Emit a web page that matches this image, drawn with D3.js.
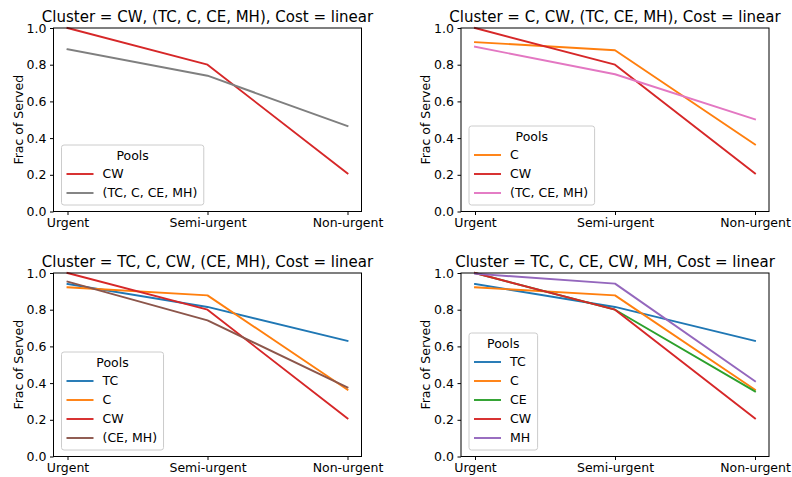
<!DOCTYPE html>
<html>
<head>
<meta charset="utf-8">
<script src="https://cdn.jsdelivr.net/npm/d3@7"></script>
<style>
  body { margin: 0; background: #fff; }
  svg { display: block; font-family: "DejaVu Sans", sans-serif; }
</style>
</head>
<body>
<script>
// categories on the x axis
var categories = ['Urgent', 'Semi-urgent', 'Non-urgent'];
var yTicks = [0, 0.2, 0.4, 0.6, 0.8, 1.0];

var titles = [
  'Cluster = CW, (TC, C, CE, MH), Cost = linear',
  'Cluster = C, CW, (TC, CE, MH), Cost = linear',
  'Cluster = TC, C, CW, (CE, MH), Cost = linear',
  'Cluster = TC, C, CE, CW, MH, Cost = linear'
];

// pools per panel and their values (Urgent, Semi-urgent, Non-urgent)
var pools1 = ['CW', '(TC, C, CE, MH)'];
var values1 = [
  [1.0, 0.80, 0.207],
  [0.884, 0.740, 0.466]
];

var pools2 = ['C', 'CW', '(TC, CE, MH)'];
var values2 = [
  [0.923, 0.879, 0.365],
  [1.0, 0.80, 0.207],
  [0.898, 0.748, 0.502]
];

var pools3 = ['TC', 'C', 'CW', '(CE, MH)'];
var values3 = [
  [0.940, 0.815, 0.630],
  [0.922, 0.878, 0.364],
  [1.0, 0.80, 0.207],
  [0.953, 0.742, 0.376]
];

var pools4 = ['TC', 'C', 'CE', 'CW', 'MH'];
var values4 = [
  [0.940, 0.815, 0.630],
  [0.922, 0.878, 0.364],
  [1.0, 0.80, 0.355],
  [1.0, 0.80, 0.207],
  [0.996, 0.942, 0.410]
];

var poolColors = {
  'TC': '#1f77b4', 'C': '#ff7f0e', 'CE': '#2ca02c', 'CW': '#d62728', 'MH': '#9467bd',
  '(CE, MH)': '#8c564b', '(TC, CE, MH)': '#e377c2', '(TC, C, CE, MH)': '#7f7f7f'
};

var panels = [
  {title: titles[0], pools: pools1, values: values1, left: 53.5, top: 28},
  {title: titles[1], pools: pools2, values: values2, left: 461, top: 28},
  {title: titles[2], pools: pools3, values: values3, left: 53.5, top: 273},
  {title: titles[3], pools: pools4, values: values4, left: 461, top: 273}
];

var W = 792, H = 477, pw = 308, ph = 183.5;
var fs = 12.5;

var svg = d3.select('body').append('svg')
  .attr('width', W)
  .attr('height', H);

panels.forEach(function(p) {
  var g = svg.append('g').attr('transform', 'translate(' + p.left + ',' + p.top + ')');

  // matplotlib 5% margin: 2 steps + 0.1 step each side
  var x = d3.scalePoint().domain(categories).range([pw * 0.1 / 2.2, pw - pw * 0.1 / 2.2]);
  var y = d3.scaleLinear().domain([0, 1]).range([ph, 0]);

  var line = d3.line()
    .x(function(d, i) { return x(categories[i]); })
    .y(function(d) { return y(d); });

  g.selectAll('path.series')
    .data(p.values)
    .enter().append('path')
    .attr('class', 'series')
    .attr('d', line)
    .attr('fill', 'none')
    .attr('stroke', function(d, i) { return poolColors[p.pools[i]]; })
    .attr('stroke-width', 1.9)
    .attr('stroke-linejoin', 'round')
    .attr('stroke-linecap', 'square');

  var xAxis = g.append('g')
    .attr('transform', 'translate(0,' + ph + ')')
    .call(d3.axisBottom(x).tickSize(3.5).tickPadding(3.5));
  var yAxis = g.append('g')
    .call(d3.axisLeft(y).tickValues(yTicks).tickFormat(d3.format('.1f')).tickSize(3.5).tickPadding(3.5));

  [xAxis, yAxis].forEach(function(a) {
    a.select('.domain').remove();
    a.selectAll('text').attr('font-size', fs).attr('font-family', 'DejaVu Sans').attr('fill', '#000');
    a.selectAll('line').attr('stroke', '#000').attr('stroke-width', 1);
  });

  g.append('rect')
    .attr('width', pw)
    .attr('height', ph)
    .attr('fill', 'none')
    .attr('stroke', '#000')
    .attr('stroke-width', 1);

  g.append('text')
    .text(p.title)
    .attr('x', pw / 2)
    .attr('y', -6)
    .attr('text-anchor', 'middle')
    .attr('font-size', 15)
    .attr('fill', '#000');

  g.append('text')
    .text('Frac of Served')
    .attr('transform', 'translate(-35,' + (ph / 2) + ') rotate(-90)')
    .attr('text-anchor', 'middle')
    .attr('dy', '0.35em')
    .attr('font-size', fs)
    .attr('fill', '#000');

  // legend, lower left
  var n = p.pools.length;
  var rowH = 19;
  var boxBottom = ph - 6.5;
  var lastRow = boxBottom - 12;
  var firstRow = lastRow - (n - 1) * rowH;
  var titleY = firstRow - 18.5;
  var boxTop = titleY - 10.5;
  var lx = 8;

  var leg = g.append('g');
  var box = leg.append('rect')
    .attr('x', lx)
    .attr('y', boxTop)
    .attr('height', boxBottom - boxTop)
    .attr('rx', 2.5)
    .attr('fill', '#fff')
    .attr('fill-opacity', 0.8)
    .attr('stroke', '#cccccc')
    .attr('stroke-width', 1);

  var maxW = 0;
  p.pools.forEach(function(name, i) {
    var cy = firstRow + i * rowH;
    leg.append('line')
      .attr('x1', lx + 5).attr('x2', lx + 32)
      .attr('y1', cy).attr('y2', cy)
      .attr('stroke', poolColors[name])
      .attr('stroke-width', 1.9);
    var t = leg.append('text')
      .text(name)
      .attr('x', lx + 41)
      .attr('y', cy)
      .attr('dy', '0.35em')
      .attr('font-size', fs)
      .attr('fill', '#000');
    maxW = Math.max(maxW, t.node().getComputedTextLength());
  });
  var bw = 41 + maxW + 6.5;
  box.attr('width', bw);

  leg.append('text')
    .text('Pools')
    .attr('x', lx + bw / 2)
    .attr('y', titleY)
    .attr('dy', '0.35em')
    .attr('text-anchor', 'middle')
    .attr('font-size', fs)
    .attr('fill', '#000');
});
</script>
</body>
</html>
